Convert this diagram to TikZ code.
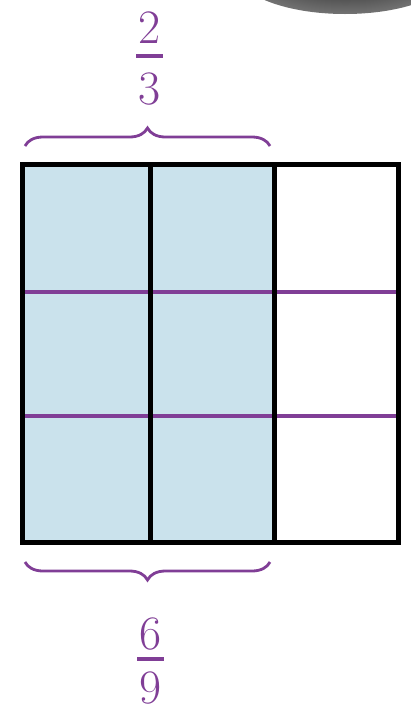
\documentclass[tikz,border=0pt]{standalone}
\usetikzlibrary{decorations.pathreplacing}
\definecolor{paleblue}{RGB}{202,226,236}
\definecolor{plum}{RGB}{128,62,150}
\begin{document}
\begin{tikzpicture}[x=1pt,y=-1pt,
 grid/.style={draw=black,line width=5pt},
 cut/.style={draw=plum,line width=4.5pt},
 brc/.style={draw=plum,line width=2.8pt,decorate,decoration={brace,amplitude=18pt}},
 bar/.style={draw=plum,line width=3.5pt},
 digit/.style={text=plum,font=\fontsize{48}{58}\selectfont,inner sep=0pt}]
\useasboundingbox (0,0) rectangle (411,713);
% blob at the top right
\shade[inner color=black!90,outer color=black!55] (345,-30) ellipse (110 and 44);
% shaded part
\fill[paleblue] (22,164) rectangle (274,542);
% cuts
\draw[cut] (22,292) -- (398,292);
\draw[cut] (22,416) -- (398,416);
% grid
\draw[grid] (22,164) rectangle (398,542);
\draw[grid] (150,164) -- (150,542);
\draw[grid] (274,164) -- (274,542);
% braces
\coordinate (tl) at (25,146);
\coordinate (tr) at (270,146);
\coordinate (bl) at (25,562);
\coordinate (br) at (270,562);
\draw[brc] (tl) -- (tr);
\draw[brc] (br) -- (bl);
% fractions
\node[digit] (num1) at (150,28) {2};
\node[digit] (den1) at (150,89) {3};
\coordinate (b1l) at (136,56);
\coordinate (b1r) at (163,56);
\draw[bar] (b1l) -- (b1r);
\node[digit] (num2) at (151,634) {6};
\node[digit] (den2) at (151,688) {9};
\coordinate (b2l) at (137,659);
\coordinate (b2r) at (164,659);
\draw[bar] (b2l) -- (b2r);
\end{tikzpicture}
\end{document}
